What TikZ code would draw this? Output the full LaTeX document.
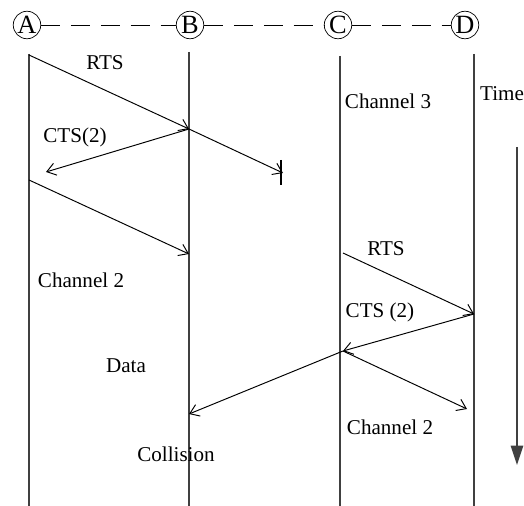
\documentclass[tikz,border=0pt]{standalone}
\usepackage{fontspec}
\setmainfont{Liberation Serif}
\usetikzlibrary{arrows.meta}

\begin{document}
\begin{tikzpicture}[
    x=0.02cm, y=-0.02cm,
    >={Straight Barb[length=5pt,width=7pt]},
    station/.style={draw, circle, inner sep=0pt, minimum size=0.55cm,
      font=\fontsize{15}{17}\selectfont},
    link/.style={dash pattern=on 11pt off 6pt, line width=0.5pt},
    life/.style={line width=0.9pt, draw=black!75},
    msg/.style={->, line width=0.55pt},
    lbl/.style={font=\fontsize{12}{14}\selectfont}
  ]
  \useasboundingbox (0,0) rectangle (524,506);

  % stations
  \node[station] (A) at (27,25) {A};
  \node[station] (B) at (190,25) {B};
  \node[station] (C) at (338,25) {C};
  \node[station] (D) at (465,25) {D};
  \draw[link] (A) -- (B);
  \draw[link] (B) -- (C);
  \draw[link] (C) -- (D);

  % time lines
  \draw[life] (29,54) -- (29,506);
  \draw[life] (189,52) -- (189,506);
  \draw[life] (340,56) -- (340,506);
  \draw[life] (474,54) -- (474,506);

  % message points
  \coordinate (a1) at (29,55);
  \coordinate (b1) at (189,129);
  \coordinate (lost) at (283,173);
  \coordinate (a2) at (46,172);
  \coordinate (a3) at (29,180);
  \coordinate (b2) at (189,254);
  \coordinate (c1) at (343,253);
  \coordinate (d1) at (474,314);
  \coordinate (c2) at (343,351);
  \coordinate (d2) at (467,409);
  \coordinate (b3) at (189,414);

  \draw[msg] (a1) -- (b1);
  \draw[msg] (b1) -- (lost);
  \draw[line width=0.6pt] ([shift={(-2,-13)}]lost) -- ([shift={(-2,12)}]lost);
  \draw[msg] (b1) -- (a2);
  \draw[msg] (a3) -- (b2);
  \draw[msg] (c1) -- (d1);
  \draw[msg] (d1) -- (c2);
  \draw[msg] (c2) -- (d2);
  \draw[msg] (c2) -- (b3);

  % labels
  \node[lbl] (rts1) at (105,63) {RTS};
  \node[lbl] (cts1) at (75,137) {CTS(2)};
  \node[lbl] (ch2a) at (81,280) {Channel 2};
  \node[lbl] (ch3) at (388,101) {Channel 3};
  \node[lbl] (time) at (502,94) {Time};
  \node[lbl] (rts2) at (386,249) {RTS};
  \node[lbl] (cts2) at (380,312) {CTS (2)};
  \node[lbl] (data) at (126,366) {Data};
  \node[lbl] (coll) at (176,454) {Collision};
  \node[lbl] (ch2b) at (390,427) {Channel 2};

  % time axis
  \coordinate (t0) at (517,147);
  \coordinate (t1) at (517,465);
  \draw[-{Triangle[length=11pt,width=7pt]}, line width=0.9pt, draw=black!75] (t0) -- (t1);
\end{tikzpicture}
\end{document}
